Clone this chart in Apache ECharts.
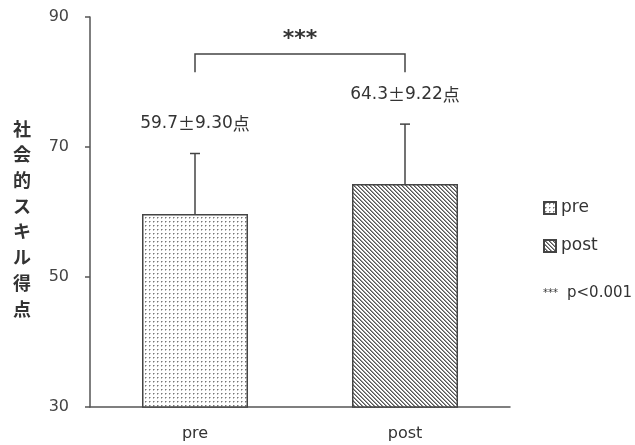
<!DOCTYPE html>
<html><head><meta charset="utf-8">
<script src="https://cdn.jsdelivr.net/npm/echarts@6/dist/echarts.min.js"></script>
<style>html,body{margin:0;padding:0;background:#fff}#c{width:635px;height:445px}</style>
</head><body><div id="c"></div>
<script>
const categories = ['pre', 'post'];
const means = [59.7, 64.3];
const sds = [9.30, 9.22];
const yTicks = [30, 50, 70, 90];
const bracketLevels = [84.3, 81.5]; // top line, leg bottoms
const sigMark = '***';
const sigNote = 'p<0.001';
const yName = '社会的スキル得点';

const FONT = '"DejaVu Sans", "Noto Sans CJK JP", sans-serif';
const CJK = '"Noto Sans CJK JP", sans-serif';

function dotPattern() {
  const c = document.createElement('canvas'); c.width = 4; c.height = 4;
  const g = c.getContext('2d');
  g.fillStyle = '#fff'; g.fillRect(0, 0, 4, 4);
  g.fillStyle = '#777'; g.fillRect(1, 1, 1, 1);
  g.fillStyle = '#bbb'; g.fillRect(2, 1, 1, 1); g.fillRect(1, 2, 1, 1);
  return c;
}
function diagPattern() {
  const c = document.createElement('canvas'); c.width = 4; c.height = 4;
  const g = c.getContext('2d');
  g.fillStyle = '#fff'; g.fillRect(0, 0, 4, 4);
  for (let i = 0; i < 4; i++) {
    g.fillStyle = '#555'; g.fillRect(i, i, 1, 1);
    g.fillStyle = '#999'; g.fillRect((i + 1) % 4, i, 1, 1);
  }
  return c;
}
const patterns = [
  { image: dotPattern(), repeat: 'repeat' },
  { image: diagPattern(), repeat: 'repeat' }
];

const chart = echarts.init(document.getElementById('c'), null, { renderer: 'canvas' });

const barSeries = categories.map((cat, i) => ({
  name: cat,
  type: 'bar',
  barWidth: 106,
  barGap: '-100%',
  data: categories.map((_, j) => j === i ? means[i] : '-'),
  itemStyle: { color: patterns[i], borderColor: '#444', borderWidth: 1.5 },
  emphasis: { disabled: true },
  z: 2
}));

const errData = categories.map((_, i) => [i, means[i], sds[i]]);

chart.setOption({
  animation: false,
  textStyle: { fontFamily: FONT },
  grid: { left: 90, right: 125, top: 17, bottom: 38 },
  legend: {
    orient: 'vertical', left: 543, top: 199, padding: 0,
    itemWidth: 12, itemHeight: 12, itemGap: 20, itemTextGap: 8,
    icon: 'rect',
    textStyle: { fontSize: 17, lineHeight: 18, color: '#333', fontFamily: FONT },
    data: categories
  },
  xAxis: {
    type: 'category', data: categories,
    axisLine: { lineStyle: { color: '#555', width: 1.5 } },
    axisTick: { show: false },
    axisLabel: { fontSize: 16, color: '#333', margin: 19 }
  },
  yAxis: {
    type: 'value', min: yTicks[0], max: yTicks[yTicks.length - 1], interval: 20,
    axisLine: { show: true, lineStyle: { color: '#555', width: 1.5 } },
    axisTick: { show: true, length: 5, lineStyle: { color: '#555', width: 1.5 } },
    axisLabel: { fontSize: 16, color: '#444', margin: 21 },
    splitLine: { show: false }
  },
  graphic: [
    {
      type: 'text', left: 13, top: 116,
      style: { text: yName.split('').join('\n'), font: 'bold 18px ' + CJK, lineHeight: 25.7, fill: '#333', align: 'center' }
    },
    {
      type: 'text', left: 543, top: 288,
      style: { text: sigMark, font: '10px ' + FONT, fill: '#333' }
    },
    {
      type: 'text', left: 567, top: 286,
      style: { text: sigNote, font: '15px ' + FONT, fill: '#333' }
    }
  ],
  series: barSeries.concat([
    {
      type: 'custom',
      data: errData,
      z: 3,
      silent: true,
      renderItem: function (params, api) {
        const i = api.value(0), m = api.value(1), s = api.value(2);
        const p0 = api.coord([i, m]);
        const p1 = api.coord([i, m + s]);
        const style = { stroke: '#444', lineWidth: 1.5 };
        return {
          type: 'group',
          children: [
            { type: 'line', shape: { x1: p0[0], y1: p0[1], x2: p1[0], y2: p1[1] }, style: style },
            { type: 'line', shape: { x1: p1[0] - 5, y1: p1[1], x2: p1[0] + 5, y2: p1[1] }, style: style },
            { type: 'text', x: p1[0], y: p1[1] - 30,
              style: {
                text: '{a|' + m.toFixed(1) + '}{b|±}{a|' + s.toFixed(2) + '}{b|点}',
                align: 'center', verticalAlign: 'middle',
                rich: {
                  a: { font: '17px ' + FONT, fill: '#333' },
                  b: { font: '17px ' + CJK, fill: '#333' }
                }
              } }
          ]
        };
      }
    },
    {
      type: 'custom',
      data: [[0, 1, bracketLevels[0], bracketLevels[1]]],
      z: 3,
      silent: true,
      renderItem: function (params, api) {
        const a = api.value(0), b = api.value(1), top = api.value(2), bot = api.value(3);
        const pa = api.coord([a, top]), pb = api.coord([b, top]);
        const qa = api.coord([a, bot]), qb = api.coord([b, bot]);
        return {
          type: 'group',
          children: [
            { type: 'polyline', shape: { points: [[qa[0], qa[1]], [pa[0], pa[1]], [pb[0], pb[1]], [qb[0], qb[1]]] },
              style: { stroke: '#444', lineWidth: 1.5, fill: null } },
            { type: 'text', x: (pa[0] + pb[0]) / 2, y: pa[1] - 15,
              style: { text: sigMark, font: 'bold 22px ' + FONT, fill: '#333', align: 'center', verticalAlign: 'middle' } }
          ]
        };
      }
    }
  ])
});
</script></body></html>
